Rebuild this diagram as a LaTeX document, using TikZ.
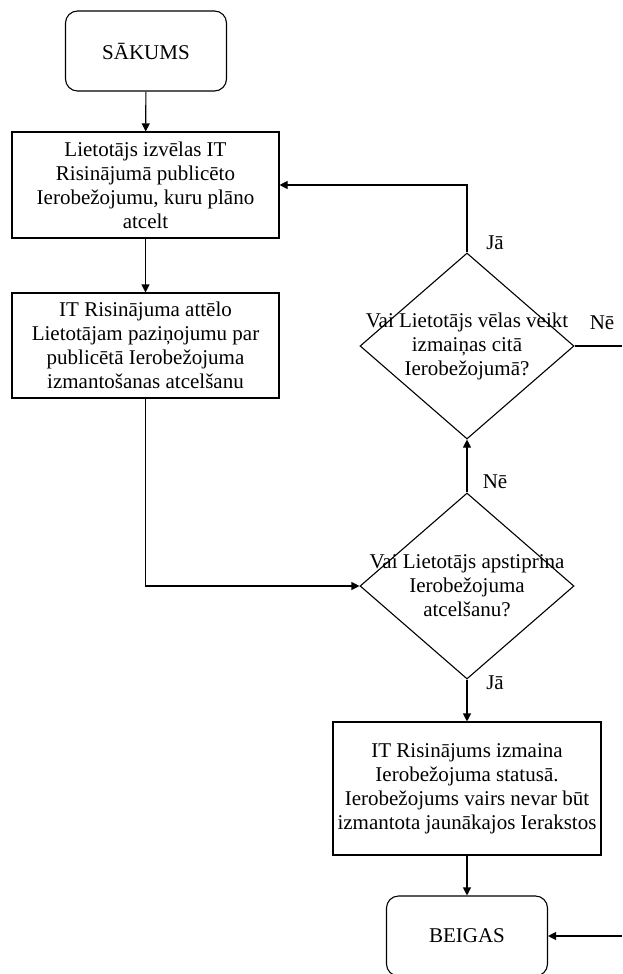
\documentclass[tikz,border=0pt]{standalone}
\usepackage{fontspec}
\setmainfont{Liberation Serif}
\usetikzlibrary{shapes.geometric,arrows.meta}
\begin{document}
\begin{tikzpicture}[x=1pt,
                    y=-1pt,
                    line width=1.1pt,
                    >={Triangle[length=8pt,width=8pt]},
                    font=\fontsize{21}{24}\selectfont,
                    ]
    \tikzstyle{terminal}=[draw,rounded corners=12pt,minimum width=161pt,minimum height=80pt,inner sep=0pt]
    \tikzstyle{process}=[draw,minimum width=267pt,align=center,inner sep=0pt]
    \tikzstyle{decision}=[draw,diamond,minimum width=214pt,minimum height=186pt,inner sep=0pt]
    \tikzstyle{question}=[align=center,inner sep=0pt]
    \tikzstyle{answer}=[inner sep=0pt]

    \useasboundingbox (0,0) rectangle (622,974);

    \node[terminal] (start) at (146,51) {SĀKUMS};
    \node[process, minimum height=106pt] (choose) at (145.5,185)
        {Lietotājs izvēlas IT\\Risinājumā publicēto\\Ierobežojumu, kuru plāno\\atcelt};
    \node[process, minimum height=105pt] (notice) at (145.5,345.5)
        {IT Risinājuma attēlo\\Lietotājam paziņojumu par\\publicētā Ierobežojuma\\izmantošanas atcelšanu};
    \node[decision] (more) at (467,346) {};
    \node[question] (moretext) at (more.center)
        {Vai Lietotājs vēlas veikt\\izmaiņas citā\\Ierobežojumā?};
    \node[decision] (confirm) at (467,586) {};
    \node[question] (confirmtext) at (confirm.center)
        {Vai Lietotājs apstiprina\\Ierobežojuma\\atcelšanu?};
    \node[process, minimum width=268pt, minimum height=133pt] (change) at (467,788.5)
        {IT Risinājums izmaina\\Ierobežojuma statusā.\\Ierobežojums vairs nevar būt\\izmantota jaunākajos Ierakstos};
    \node[terminal] (end) at (467,936) {BEIGAS};

    \coordinate (outno) at (622,346);
    \coordinate (inend) at (622,936);

    \node[answer] (yesmore) at (495,243) {Jā};
    \node[answer] (nomore) at (602,323) {Nē};
    \node[answer] (noconfirm) at (495,482) {Nē};
    \node[answer] (yesconfirm) at (495,683) {Jā};

    \draw[->] (start) -- (choose);
    \draw[->] (choose) -- (notice);
    \draw[->] (notice.south) |- (confirm.west);
    \draw[->] (confirm.north) -- (more.south);
    \draw[->] (more.north) |- (choose.east);
    \draw (more.east) -- (outno);
    \draw[->] (confirm.south) -- (change.north);
    \draw[->] (change) -- (end);
    \draw[->] (inend) -- (end.east);
\end{tikzpicture}
\end{document}
